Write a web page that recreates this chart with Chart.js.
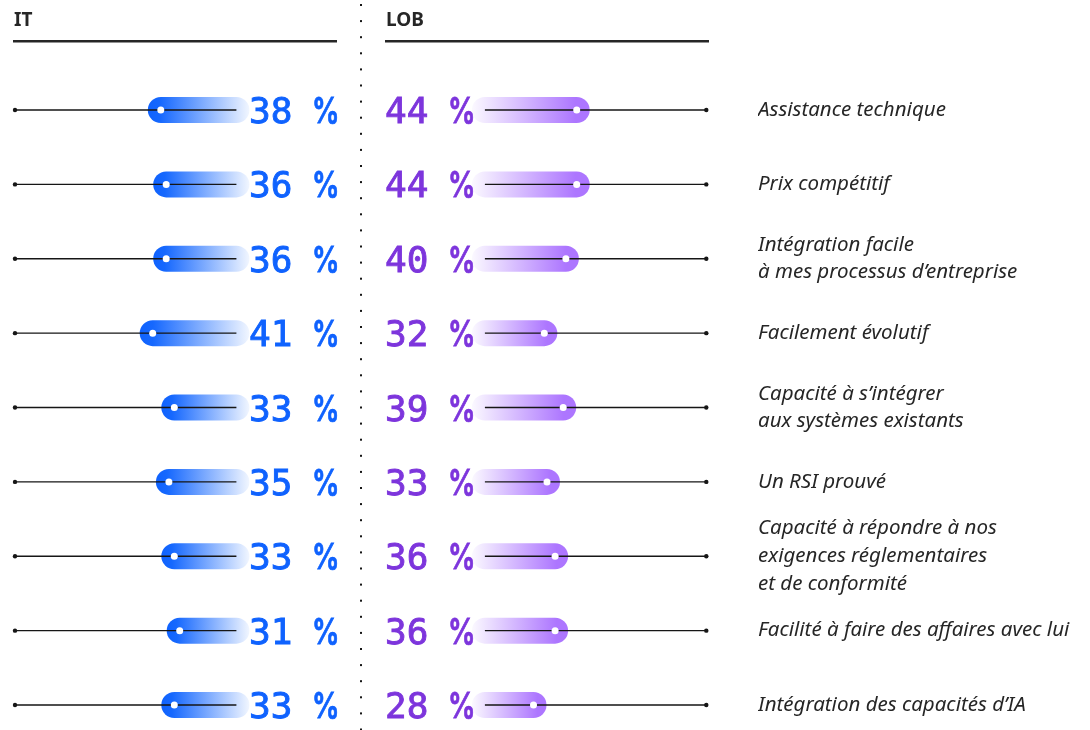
<!DOCTYPE html>
<html lang="fr">
<head>
<meta charset="utf-8">
<title>IT / LOB</title>
<script src="https://cdn.jsdelivr.net/npm/chart.js@4.4.1/dist/chart.umd.min.js"></script>
<style>
  html, body { margin: 0; background: #fff; }
  #wrap { width: 1090px; height: 730px; }
</style>
</head>
<body>
<div id="wrap"><canvas id="chart" width="1090" height="730"></canvas></div>
<script>
// Critères cités, en % de répondants IT et LOB
const CATEGORIES = [
  'Assistance technique',
  'Prix compétitif',
  ['Intégration facile', 'à mes processus d’entreprise'],
  'Facilement évolutif',
  ['Capacité à s’intégrer', 'aux systèmes existants'],
  'Un RSI prouvé',
  ['Capacité à répondre à nos', 'exigences réglementaires', 'et de conformité'],
  'Facilité à faire des affaires avec lui',
  'Intégration des capacités d’IA',
];
const IT_VALUES = [38, 36, 36, 41, 33, 35, 33, 31, 33];
const LOB_VALUES = [44, 44, 40, 32, 39, 33, 36, 36, 28];
// start and end of the thin guide line, in %
const TRACK = [10, 92];

// layout
const PX_PER_PT = 2.7;
const PLOT_RIGHT = 758;      // category labels start here
const IT_ZERO = 263.4;       // pixel of 0 % on the IT side (axis runs leftwards)
const LOB_ZERO = 457.9;      // pixel of 0 % on the LOB side
const PILL = 26;
const SPAN = PLOT_RIGHT / PX_PER_PT;

const IT_BLUE = '#0f62fe';
const LOB_PURPLE = '#7d35dc';
const INK = '#262626';

// one point pair per row, separated by a gap so each row is its own segment
function rowPairs(values, a) {
  const out = [];
  values.forEach((v, i) => {
    out.push({ x: a, y: i }, { x: v, y: i }, { x: null, y: i });
  });
  return out;
}
const points = (values) => values.map((v, i) => ({ x: v, y: i }));

function pillColor(stops) {
  return (ctx) => {
    const { p0, p1 } = ctx;
    const left = Math.min(p0.x, p1.x) - PILL / 2;
    const right = Math.max(p0.x, p1.x) + PILL / 2;
    const g = ctx.chart.ctx.createLinearGradient(left, 0, right, 0);
    stops.forEach(([o, c]) => g.addColorStop(o, c));
    return g;
  };
}

const pill = (id, values, stops) => ({
  type: 'line',
  xAxisID: id,
  data: rowPairs(values, TRACK[0]),
  borderWidth: PILL,
  borderCapStyle: 'round',
  borderColor: stops[0][1],
  pointRadius: 0,
  clip: false,
  order: 3,
  segment: { borderColor: pillColor(stops) },
});

const track = (id) => ({
  type: 'line',
  xAxisID: id,
  data: rowPairs(CATEGORIES.map(() => TRACK[1]), TRACK[0]),
  borderWidth: 1.3,
  borderColor: '#161616',
  pointRadius: 0,
  clip: false,
  order: 2,
});

const dots = (id, values, color, r) => ({
  type: 'scatter',
  xAxisID: id,
  data: points(values),
  pointRadius: r,
  pointBackgroundColor: color,
  pointBorderWidth: 0,
  clip: false,
  order: 1,
});

// "38 %": monospaced digits, percent sign squeezed to the same cell width
function drawValue(c, v, x, y, color) {
  c.fillStyle = color;
  c.strokeStyle = color;
  c.lineWidth = 0.9;
  c.font = '36px "DejaVu Sans Mono"';
  const s = String(v);
  c.fillText(s, x, y);
  c.strokeText(s, x, y);
  c.save();
  c.translate(x + 63, y);
  c.scale(0.76, 1);
  c.font = '600 36px Inter';
  c.fillText('%', 0, 0);
  c.lineWidth = 0.8;
  c.strokeText('%', 0, 0);
  c.restore();
}

const decor = {
  id: 'decor',
  afterDatasetsDraw(chart) {
    const c = chart.ctx;
    const y = chart.scales.y;
    c.save();

    // column headers and rules
    c.fillStyle = INK;
    c.font = 'bold 19px "Noto Sans"';
    c.textBaseline = 'alphabetic';
    c.fillText('IT', 14, 26);
    c.fillText('LOB', 386, 26);
    c.fillRect(13, 40, 324, 2.5);
    c.fillRect(385, 40, 324, 2.5);

    // dotted divider
    c.fillStyle = '#161616';
    for (let yy = 4; yy < 730; yy += 16.1) c.fillRect(360, yy, 2, 2);

    // value labels
    IT_VALUES.forEach((v, i) => drawValue(c, v, 249, y.getPixelForValue(i) + 13, IT_BLUE));
    LOB_VALUES.forEach((v, i) => drawValue(c, v, 385, y.getPixelForValue(i) + 13, LOB_PURPLE));
    c.restore();
  },
};

new Chart(document.getElementById('chart'), {
  type: 'line',
  data: {
    datasets: [
      pill('xIT', IT_VALUES, [[0, IT_BLUE], [0.12, '#1668fe'], [1, '#f1f6ff']]),
      pill('xLOB', LOB_VALUES, [[0, '#fbf9ff'], [0.88, '#ad76ff'], [1, '#ad76ff']]),
      track('xIT'),
      track('xLOB'),
      dots('xIT', IT_VALUES, '#ffffff', 3.5),
      dots('xLOB', LOB_VALUES, '#ffffff', 3.5),
      dots('xIT', CATEGORIES.map(() => TRACK[1]), '#161616', 2.2),
      dots('xLOB', CATEGORIES.map(() => TRACK[1]), '#161616', 2.2),
    ],
  },
  options: {
    responsive: false,
    animation: false,
    events: [],
    layout: { autoPadding: false, padding: { top: 110, bottom: 25, left: 0, right: 0 } },
    plugins: { legend: { display: false }, tooltip: { enabled: false } },
    scales: {
      xIT: {
        type: 'linear',
        display: false,
        reverse: true,
        max: IT_ZERO / PX_PER_PT,
        min: IT_ZERO / PX_PER_PT - SPAN,
      },
      xLOB: {
        type: 'linear',
        display: false,
        min: -LOB_ZERO / PX_PER_PT,
        max: SPAN - LOB_ZERO / PX_PER_PT,
      },
      y: {
        type: 'linear',
        position: 'right',
        reverse: true,
        min: 0,
        max: CATEGORIES.length - 1,
        grid: { display: false, drawTicks: false },
        border: { display: false },
        ticks: {
          stepSize: 1,
          autoSkip: false,
          padding: 0,
          color: INK,
          font: { family: '"Noto Sans"', size: 20.5, style: 'italic', lineHeight: 1.35 },
          callback: (v) => CATEGORIES[v],
        },
        afterFit: (s) => { s.width = 1090 - PLOT_RIGHT; },
      },
    },
  },
  plugins: [decor],
});
</script>
</body>
</html>
